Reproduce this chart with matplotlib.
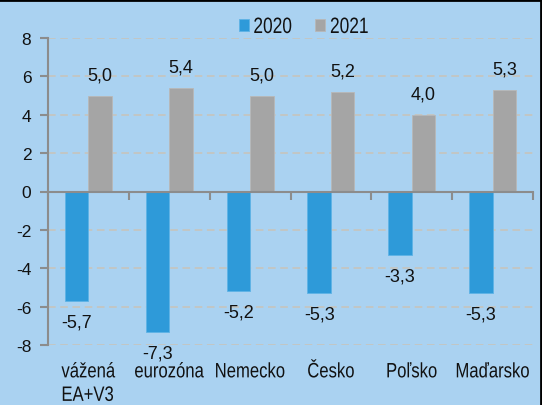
import matplotlib
matplotlib.use("Agg")
import matplotlib.pyplot as plt
from matplotlib import font_manager as fm
from matplotlib.lines import Line2D
from matplotlib.patheffects import AbstractPathEffect
from matplotlib.transforms import Affine2D
import numpy as np

categories = ["vážená\nEA+V3", "eurozóna", "Nemecko", "Česko", "Poľsko", "Maďarsko"]
vals_2020 = [-5.7, -7.3, -5.2, -5.3, -3.3, -5.3]
vals_2021 = [5.0, 5.4, 5.0, 5.2, 4.0, 5.3]
labels_2020 = ["-5,7", "-7,3", "-5,2", "-5,3", "-3,3", "-5,3"]
labels_2021 = ["5,0", "5,4", "5,0", "5,2", "4,0", "5,3"]
series_names = ["2020", "2021"]
yticks = [-8, -6, -4, -2, 0, 2, 4, 6, 8]

names = {f.name for f in fm.fontManager.ttflist}
REG = "Liberation Sans" if "Liberation Sans" in names else "DejaVu Sans"

BG = "#aad2f1"
BLUE = "#2e9ad9"
GRAY = "#a5a5a5"
SPINE = "#8c8c8c"
GRID = "#c9c3b8"
TXT = "#111111"


class HScale(AbstractPathEffect):
    """Horizontally condense a text around its anchor point (narrow-font look)."""
    def __init__(self, text, sx):
        super().__init__()
        self.text = text
        self.sx = sx

    def draw_path(self, renderer, gc, tpath, affine, rgbFace=None):
        cx = self.text.get_transform().transform(self.text.get_unitless_position())[0]
        t = affine + Affine2D().translate(-cx, 0).scale(self.sx, 1).translate(cx, 0)
        renderer.draw_path(gc, tpath, t, rgbFace)


fig = plt.figure(figsize=(5.42, 4.06), dpi=100, facecolor=BG)
ax = fig.add_axes([48/542, 1-346/406, (533-48)/542, (346-39)/406])
ax.set_facecolor(BG)

x = np.arange(len(categories))
w = 0.29
b1 = ax.bar(x - w/2, vals_2020, w, color=BLUE, edgecolor="#5fb3e6", linewidth=0.6,
            label=series_names[0], zorder=3)
b2 = ax.bar(x + w/2, vals_2021, w, color=GRAY, edgecolor="#b8b8b8", linewidth=0.6,
            label=series_names[1], zorder=3)

ax.bar_label(b1, labels=labels_2020, padding=9, fontsize=13, family=REG, color=TXT)
ax.bar_label(b2, labels=labels_2021, padding=9, fontsize=13, family=REG, color=TXT)

ax.set_xlim(-0.5, len(categories) - 0.5)
ax.set_ylim(-8, 8)
ax.set_yticks(yticks)
ax.set_yticklabels([str(v) for v in yticks], family=REG, fontsize=12.5, color=TXT)
ax.tick_params(axis="y", length=6, width=1.5, color=SPINE, pad=6)

for v in yticks:
    if v != 0:
        ax.axhline(v, color=GRID, lw=1.1, ls=(0, (5, 3)), zorder=1)

for s in ["top", "right"]:
    ax.spines[s].set_visible(False)
ax.spines["left"].set_color(SPINE)
ax.spines["left"].set_linewidth(1.5)
ax.spines["bottom"].set_position(("data", 0))
ax.spines["bottom"].set_color(SPINE)
ax.spines["bottom"].set_linewidth(1.5)
ax.spines["bottom"].set_zorder(4)
ax.set_xticks(np.arange(len(categories) + 1) - 0.5)
ax.set_xticklabels([])
ax.tick_params(axis="x", length=6, width=1.5, color=SPINE, direction="out")

sec = ax.secondary_xaxis("bottom")
sec.set_xticks(x)
sec.set_xticklabels(categories, family=REG, fontsize=15, color=TXT,
                    multialignment="left", linespacing=1.3)
sec.tick_params(length=0, pad=12.5)
sec.spines["bottom"].set_visible(False)
for t in sec.get_xticklabels():
    t.set_path_effects([HScale(t, 0.8)])

leg = fig.legend(handles=[b1, b2], labels=series_names, loc="center left",
                 bbox_to_anchor=(238.5/542, 1-28.5/406), ncol=2, frameon=False,
                 prop={"family": REG, "size": 16}, handlelength=0.45,
                 handleheight=0.45, handletextpad=0.22, columnspacing=0.55,
                 borderpad=0, borderaxespad=0)
for t in leg.get_texts():
    t.set_color(TXT)
    t.set_path_effects([HScale(t, 0.78)])

fig.add_artist(Line2D([0, 1], [1 - 0.5/406, 1 - 0.5/406], transform=fig.transFigure,
                      color="black", lw=2))
fig.add_artist(Line2D([1 - 0.8/542, 1 - 0.8/542], [0, 1], transform=fig.transFigure,
                      color="black", lw=2))

fig.savefig("out.png", dpi=100, facecolor=BG)
